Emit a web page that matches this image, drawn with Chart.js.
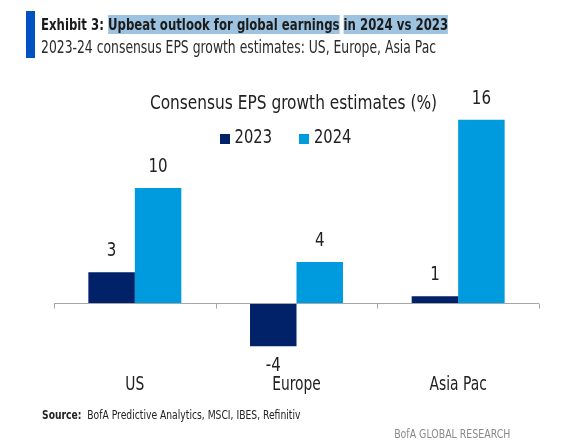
<!DOCTYPE html>
<html><head><meta charset="utf-8">
<script src="https://cdn.jsdelivr.net/npm/chart.js@4.4.0/dist/chart.umd.min.js"></script>
<style>
html,body{margin:0;padding:0;background:#fff;width:581px;height:443px;overflow:hidden;font-family:"DejaVu Sans Condensed","DejaVu Sans",sans-serif;}
.abs{position:absolute;white-space:nowrap;}
#bar{left:26px;top:11px;width:9px;height:47px;background:#0052c2;}
#title{left:41px;top:15px;font-size:16.5px;font-weight:bold;color:#1b1b1b;transform:scaleX(0.79);transform-origin:0 0;}
#title .hl{background:#9dc3e0;}
#sub{left:41px;top:37px;font-size:17px;color:#2a2a2a;transform:scaleX(0.81);transform-origin:0 0;}
#ctitle{left:3px;width:581px;text-align:center;top:91px;font-size:19px;color:#222;}
#ctitle span{display:inline-block;transform:scaleX(0.9);}
#src{left:42px;top:408px;font-size:12px;color:#222;transform:scaleX(0.853);transform-origin:0 0;}
#brand{right:71px;top:426px;font-size:13px;color:#8a8a8a;transform:scaleX(0.805);transform-origin:100% 0;}
#wrap{position:absolute;left:0;top:0;width:581px;height:443px;}
</style></head>
<body>
<div id="wrap"><canvas id="c" width="581" height="443"></canvas></div>
<div class="abs" id="bar"></div>
<div class="abs" id="title">Exhibit 3: <span class="hl">Upbeat outlook for global earnings</span> <span class="hl">in 2024 vs 2023</span></div>
<div class="abs" id="sub">2023-24 consensus EPS growth estimates: US, Europe, Asia Pac</div>
<div class="abs" id="ctitle"><span>Consensus EPS growth estimates (%)</span></div>
<div class="abs" id="src"><b>Source:</b>&nbsp; BofA Predictive Analytics, MSCI, IBES, Refinitiv</div>
<div class="abs" id="brand">BofA GLOBAL RESEARCH</div>
<script>
const categories = ["US", "Europe", "Asia Pac"];
const seriesNames = ["2023", "2024"];
const values2023 = [2.7, -3.8, 0.6];
const values2024 = [10.1, 3.6, 16.1];
const colors = ["#012169", "#009ADE"];
const FONT = "'DejaVu Sans Condensed','DejaVu Sans',sans-serif";
const TEXT = '#222';

function drawText(ctx, txt, x, y, size, sx, align) {
  ctx.save();
  ctx.font = size + "px " + FONT;
  ctx.fillStyle = TEXT;
  ctx.textAlign = align || 'center';
  ctx.textBaseline = 'middle';
  ctx.translate(x, y);
  ctx.scale(sx, 1);
  ctx.fillText(txt, 0, 0);
  ctx.restore();
}
function textWidth(ctx, txt, size, sx) {
  ctx.save();
  ctx.font = size + "px " + FONT;
  const w = ctx.measureText(txt).width * sx;
  ctx.restore();
  return w;
}

const zeroLine = {
  id: 'zeroLine',
  afterDatasetsDraw(chart) {
    const {ctx, chartArea, scales:{x, y}} = chart;
    const y0 = Math.round(y.getPixelForValue(0)) + 0.5;
    ctx.save();
    ctx.strokeStyle = '#a6a6a6';
    ctx.lineWidth = 1;
    ctx.beginPath();
    ctx.moveTo(chartArea.left, y0);
    ctx.lineTo(chartArea.right, y0);
    for (let i = 0; i <= categories.length; i++) {
      const px = Math.round(x.getPixelForValue(i - 0.5)) + 0.5;
      ctx.moveTo(px, y0);
      ctx.lineTo(px, y0 + 5);
    }
    ctx.stroke();
    ctx.restore();
  }
};
const labelsPlugin = {
  id: 'labelsPlugin',
  afterDatasetsDraw(chart) {
    const {ctx, chartArea, scales:{x}} = chart;
    chart.data.datasets.forEach((ds, di) => {
      chart.getDatasetMeta(di).data.forEach((bar, i) => {
        const v = ds.data[i];
        const yy = v >= 0 ? bar.y - 21 : bar.y + 20;
        drawText(ctx, String(Math.round(v)), bar.x, yy, 19, 0.88);
      });
    });
    categories.forEach((c, i) => {
      drawText(ctx, c, x.getPixelForValue(i), chartArea.bottom + 14, 19, 0.81);
    });
    const sx = 0.86, size = 19, box = 10, gap = 5, spacing = 27;
    const items = chart.data.datasets.map(ds => ({t: ds.label, c: ds.backgroundColor, w: textWidth(ctx, ds.label, size, sx)}));
    let total = 0;
    items.forEach((it, k) => { total += box + gap + it.w + (k ? spacing : 0); });
    let cx = (chartArea.left + chartArea.right) / 2 - 11 - total / 2;
    const cy = 138.5;
    items.forEach((it, k) => {
      if (k) cx += spacing;
      ctx.fillStyle = it.c;
      ctx.fillRect(Math.round(cx), Math.round(cy - 5), box, box);
      cx += box + gap;
      drawText(ctx, it.t, cx, cy, size, sx, 'left');
      cx += it.w;
    });
  }
};

new Chart(document.getElementById('c'), {
  type: 'bar',
  data: {
    labels: categories,
    datasets: [
      {label: seriesNames[0], data: values2023, backgroundColor: colors[0]},
      {label: seriesNames[1], data: values2024, backgroundColor: colors[1]}
    ]
  },
  options: {
    responsive: false,
    animation: false,
    events: [],
    layout: {padding: {left: 54, right: 42, top: 98, bottom: 71.6}},
    datasets: {bar: {categoryPercentage: 0.575, barPercentage: 1}},
    scales: {
      x: {display: false},
      y: {display: false, min: -6, max: 18}
    },
    plugins: {
      legend: {display: false},
      tooltip: {enabled: false}
    }
  },
  plugins: [zeroLine, labelsPlugin]
});
</script>
</body></html>
